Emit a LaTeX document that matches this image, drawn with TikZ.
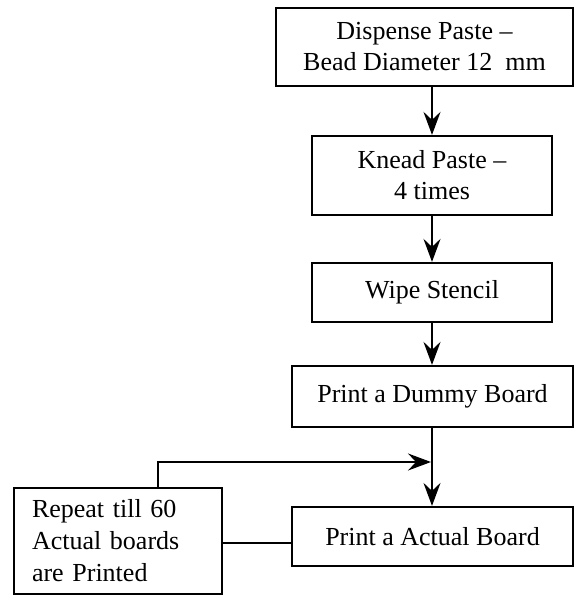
\documentclass[tikz,border=0pt]{standalone}
\usepackage{fontspec}
\setmainfont{Liberation Serif}
\usetikzlibrary{arrows.meta}
\begin{document}
\begin{tikzpicture}[x=1pt,y=-1pt,
  box/.style={draw,line width=2.2pt,inner sep=0pt,align=center,font=\fontsize{26}{31}\selectfont},
  arr/.style={line width=2.2pt,-{Stealth[length=23pt,width=17pt,inset=8pt]}},
  ln/.style={line width=2.2pt}]
\useasboundingbox (0,0) rectangle (574,596);
\fill[white] (0,0) rectangle (574,596);
\node[box,minimum width=297pt,minimum height=78pt] (b1) at (424.5,47) {Dispense Paste --\\Bead Diameter 12\ \ mm};
\node[box,minimum width=240pt,minimum height=79pt] (b2) at (432,175.5) {Knead Paste --\\4 times};
\node[box,minimum width=240pt,minimum height=59pt] (b3) at (432,292.5) {Wipe Stencil};
\node[box,minimum width=281pt,minimum height=61pt] (b4) at (432.5,396.5) {Print a Dummy Board};
\node[box,minimum width=281pt,minimum height=59pt] (b5) at (432.5,536.5) {Print a Actual Board};
\node[box,minimum width=208pt,minimum height=106pt,align=left,text width=172pt,font=\fontsize{26}{32}\selectfont] (lb) at (118,541) {Repeat till 60\\Actual boards\\are Printed};
\coordinate (j) at (432,462);
\coordinate (fb) at (158,488);
\draw[arr] (b1.south -| b2) -- (b2.north);
\draw[arr] (b2.south) -- (b3.north);
\draw[arr] (b3.south) -- (b4.north -| b3);
\draw[arr] (b4.south -| j) -- (b5.north -| j);
\draw[arr,shorten >=1pt] (lb.north -| fb) |- (j);
\draw[ln] (lb.east |- 0,543) -- (b5.west |- 0,543);
\end{tikzpicture}
\end{document}
